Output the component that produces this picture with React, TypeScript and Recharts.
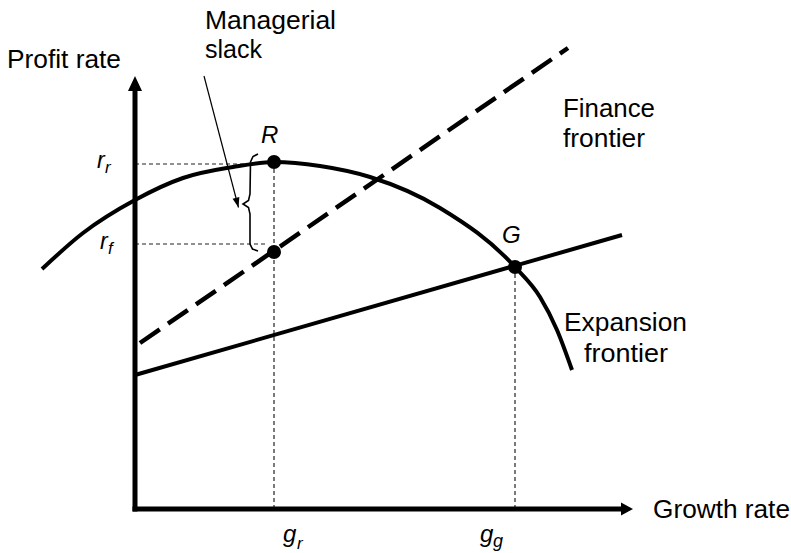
import { ComposedChart, Line, XAxis, YAxis, ReferenceLine, ReferenceDot, Customized } from 'recharts';

// units: 1 = 50px, origin at the axes corner
const profitFrontier = [
  { x: -1.86, y: 4.8 },
  { x: -1.04, y: 5.52 },
  { x: 0, y: 6.18 },
  { x: 0.96, y: 6.62 },
  { x: 1.96, y: 6.84 },
  { x: 2.78, y: 6.94 },
  { x: 3.7, y: 6.86 },
  { x: 4.7, y: 6.64 },
  { x: 6.1, y: 6.02 },
  { x: 7.6, y: 4.84 },
  { x: 8.1, y: 4.24 },
  { x: 8.44, y: 3.58 },
  { x: 8.74, y: 2.78 },
];

const financeFrontier = [
  { x: 0.1, y: 3.32 },
  { x: 8.66, y: 9.22 },
];

const expansionFrontier = [
  { x: 0, y: 2.68 },
  { x: 9.74, y: 5.48 },
];

const slackBrace = [
  { x: 2.46, y: 7.1 },
  { x: 2.36, y: 7.05 },
  { x: 2.31, y: 6.94 },
  { x: 2.3, y: 6.3 },
  { x: 2.27, y: 6.17 },
  { x: 2.16, y: 6.1 },
  { x: 2.27, y: 6.03 },
  { x: 2.3, y: 5.9 },
  { x: 2.3, y: 5.3 },
  { x: 2.35, y: 5.2 },
  { x: 2.46, y: 5.16 },
];

const pointR = { x: 2.78, y: 6.94 };
const pointRf = { x: 2.78, y: 5.14 };
const pointG = { x: 7.6, y: 4.84 };
const rr = 6.9;
const rf = 5.3;
const slackArrow = [
  { x: 1.38, y: 8.66 },
  { x: 2.07, y: 6.03 },
];

const FONT = '"Liberation Sans", Arial, Helvetica, sans-serif';

const Labels = () => (
  <g fontFamily={FONT} fill="#000">
    <text x={7} y={68} fontSize={25} textLength={114} lengthAdjust="spacingAndGlyphs">Profit rate</text>
    <text x={205} y={29} fontSize={25} textLength={131} lengthAdjust="spacingAndGlyphs">Managerial</text>
    <text x={205} y={58} fontSize={25} textLength={57} lengthAdjust="spacingAndGlyphs">slack</text>
    <text x={563} y={117} fontSize={25} textLength={92} lengthAdjust="spacingAndGlyphs">Finance</text>
    <text x={563} y={147} fontSize={25} textLength={82} lengthAdjust="spacingAndGlyphs">frontier</text>
    <text x={564} y={331} fontSize={25} textLength={123} lengthAdjust="spacingAndGlyphs">Expansion</text>
    <text x={584} y={362} fontSize={25} textLength={84} lengthAdjust="spacingAndGlyphs">frontier</text>
    <text x={653} y={518} fontSize={25} textLength={137} lengthAdjust="spacingAndGlyphs">Growth rate</text>
    <g fontStyle="italic">
      <text x={261} y={143} fontSize={24}>R</text>
      <text x={502} y={243} fontSize={24}>G</text>
      <text x={97} y={168} fontSize={23}>r</text>
      <text x={105} y={173} fontSize={17}>r</text>
      <text x={100} y={249} fontSize={23}>r</text>
      <text x={108} y={254} fontSize={17}>f</text>
      <text x={283} y={542} fontSize={24}>g</text>
      <text x={297} y={549} fontSize={17}>r</text>
      <text x={480} y={542} fontSize={24}>g</text>
      <text x={493} y={547} fontSize={18}>g</text>
    </g>
  </g>
);

const triangle = (angle: number, len: number, half: number) => (props: any) => (
  <path
    d={`M0,0 L${-len},${-half} L${-len},${half} Z`}
    transform={`translate(${props.cx},${props.cy}) rotate(${angle})`}
    fill="#000"
  />
);

export default function App() {
  return (
    <div style={{ position: 'absolute', left: 0, top: 0, width: 791, height: 553, background: '#fff' }}>
      <ComposedChart width={791} height={553} margin={{ top: 0, right: 0, bottom: 0, left: 0 }}>
        <XAxis type="number" dataKey="x" domain={[-2.7, 13.12]} allowDataOverflow hide />
        <YAxis type="number" dataKey="y" domain={[-0.88, 10.18]} allowDataOverflow hide />

        {/* guide lines */}
        <ReferenceLine segment={[{ x: 0, y: rr }, { x: 2.26, y: rr }]} stroke="#222" strokeWidth={1.2} strokeDasharray="4 3" />
        <ReferenceLine segment={[{ x: 0, y: rf }, { x: 2.65, y: rf }]} stroke="#222" strokeWidth={1.2} strokeDasharray="4 3" />
        <ReferenceLine segment={[{ x: pointR.x, y: 0 }, { x: pointR.x, y: pointR.y }]} stroke="#222" strokeWidth={1.2} strokeDasharray="4 3" />
        <ReferenceLine segment={[{ x: pointG.x, y: 0 }, { x: pointG.x, y: pointG.y }]} stroke="#222" strokeWidth={1.2} strokeDasharray="4 3" />

        {/* axes */}
        <ReferenceLine segment={[{ x: 0, y: -0.05 }, { x: 0, y: 8.4 }]} stroke="#000" strokeWidth={5} />
        <ReferenceLine segment={[{ x: -0.05, y: 0 }, { x: 9.8, y: 0 }]} stroke="#000" strokeWidth={5} />
        <ReferenceDot x={0} y={8.66} r={1} shape={triangle(-90, 15, 7)} />
        <ReferenceDot x={9.96} y={0} r={1} shape={triangle(0, 12, 6.5)} />

        <Line data={profitFrontier} dataKey="y" type="monotone" stroke="#000" strokeWidth={4} dot={false} activeDot={false} isAnimationActive={false} />
        <Line data={financeFrontier} dataKey="y" type="linear" stroke="#000" strokeWidth={4.5} strokeDasharray="24 10" dot={false} activeDot={false} isAnimationActive={false} />
        <Line data={expansionFrontier} dataKey="y" type="linear" stroke="#000" strokeWidth={4} dot={false} activeDot={false} isAnimationActive={false} />
        <Line data={slackBrace} dataKey="y" type="linear" stroke="#000" strokeWidth={1.6} dot={false} activeDot={false} isAnimationActive={false} />
        <Line data={slackArrow} dataKey="y" type="linear" stroke="#000" strokeWidth={1.2} dot={false} activeDot={false} isAnimationActive={false} />
        <ReferenceDot x={slackArrow[1].x} y={slackArrow[1].y} r={1} shape={triangle(75.3, 10, 3.5)} />

        <ReferenceDot x={pointR.x} y={pointR.y} r={7} fill="#000" stroke="none" />
        <ReferenceDot x={pointRf.x} y={pointRf.y} r={7} fill="#000" stroke="none" />
        <ReferenceDot x={pointG.x} y={pointG.y} r={7} fill="#000" stroke="none" />

        <Customized component={Labels} />
      </ComposedChart>
    </div>
  );
}
